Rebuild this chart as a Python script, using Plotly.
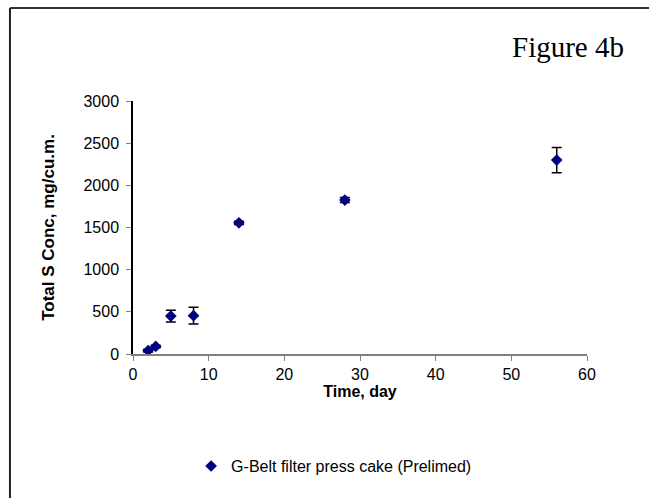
import plotly.graph_objects as go

time_day = [2, 3, 5, 8, 14, 28, 56]
total_s = [40, 90, 450, 455, 1555, 1825, 2300]
err = [15, 15, 70, 100, 20, 30, 150]
series_name = "G-Belt filter press cake (Prelimed)"

fig = go.Figure()
fig.add_trace(go.Scatter(
    x=time_day, y=total_s, mode="markers", name=series_name,
    marker=dict(symbol="diamond", color="#000080", size=9),
    error_y=dict(type="data", array=err, visible=True, color="black", thickness=1.5, width=5),
    showlegend=True,
))

font = "Liberation Sans, Arial, sans-serif"
fig.update_layout(
    width=649, height=498,
    margin=dict(l=133, r=62, t=101, b=144),
    paper_bgcolor="white", plot_bgcolor="white",
    font=dict(family=font, size=16, color="black"),
    xaxis=dict(range=[0, 60], tick0=0, dtick=10, showgrid=False, zeroline=False,
               showline=True, linecolor="#808080", linewidth=1.5,
               ticks="outside", ticklen=5, tickcolor="#808080",
               tickfont=dict(size=16),
               title=dict(text="<b>Time, day</b>", font=dict(size=16), standoff=2)),
    yaxis=dict(range=[0, 3000], tick0=0, dtick=500, showgrid=False, zeroline=False,
               showline=True, linecolor="black", linewidth=1.5,
               ticks="outside", ticklen=5, tickcolor="#808080",
               tickfont=dict(size=16), ticklabelstandoff=4,
               title=dict(text="<b>Total S Conc, mg/cu.m.</b>", font=dict(size=17), standoff=25)),
    legend=dict(orientation="h", x=0.128, xanchor="left", y=-0.443, yanchor="middle",
                font=dict(size=16), bgcolor="rgba(0,0,0,0)"),
    annotations=[dict(text="Figure 4b", xref="paper", yref="paper", x=1.085, y=1.215,
                      xanchor="right", yanchor="middle", showarrow=False,
                      font=dict(family="Liberation Serif, Times New Roman, serif", size=29))],
    shapes=[
        dict(type="line", xref="paper", yref="paper", x0=-0.271, x1=1.2, y0=1.368, y1=1.368,
             line=dict(color="#333333", width=2)),
        dict(type="line", xref="paper", yref="paper", x0=-0.271, x1=-0.271, y0=1.368, y1=-0.6,
             line=dict(color="#222222", width=2)),
    ],
)

fig.write_html("out.html")
